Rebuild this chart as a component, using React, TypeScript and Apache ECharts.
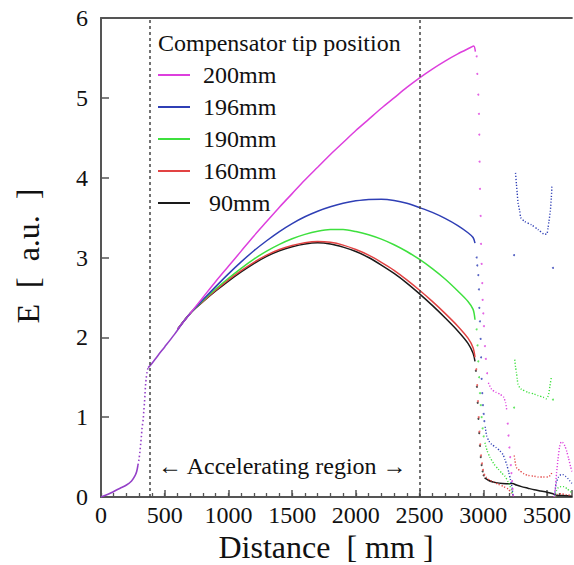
import React, { useEffect, useRef } from "react";
import * as echarts from "echarts";

const GAP = ["-", "-"];

// x tick labels / axis settings
const xTicks = [0, 500, 1000, 1500, 2000, 2500, 3000, 3500];
const yTicks = [0, 1, 2, 3, 4, 5, 6];
const regionBounds = [383, 2500];

const seriesNames = ["200mm", "196mm", "190mm", "160mm", " 90mm"];
const seriesColors = ["#dd3fdd", "#2f3fb5", "#3ee03e", "#e24343", "#1a1a1a"];

// common rise shared by all curves
const commonStart = [[0, 0], [50, 0.03], [100, 0.07], [150, 0.11], [200, 0.15], [240, 0.2], [265, 0.26], [280, 0.32], [290, 0.4]];
const commonRise = [[290, 0.4], [298, 0.47], [305, 0.56], [311, 0.66], [317, 0.76], [322, 0.86], [331, 0.97], [336, 1.08], [341, 1.18], [345, 1.28], [349, 1.39], [355, 1.49], [362, 1.57], [370, 1.62]];
const commonLinear = [[370, 1.62], [383, 1.64], [450, 1.78], [500, 1.88], [578, 2.04], [650, 2.2], [700, 2.3]];

// 200mm
const main200 = [[600, 2.1], [700, 2.3], [800, 2.5], [900, 2.7], [1000, 2.89], [1100, 3.08], [1200, 3.27], [1300, 3.45], [1400, 3.63], [1500, 3.8], [1600, 3.97], [1700, 4.13], [1800, 4.29], [1900, 4.44], [2000, 4.59], [2100, 4.73], [2200, 4.87], [2300, 5.0], [2400, 5.13], [2500, 5.25], [2600, 5.36], [2700, 5.46], [2800, 5.55], [2900, 5.63], [2925, 5.65], [2938, 5.58]];
const pieces200 = [[3040, 1.43], [3065, 1.35], [3100, 1.31], [3130, 1.29], [3160, 1.25], [3175, 1.18], [3185, 1.08], GAP, [3555, 0.0], [3565, 0.1], [3575, 0.3], [3586, 0.47], [3598, 0.62], [3612, 0.69], [3625, 0.68], [3640, 0.64], [3655, 0.57], [3670, 0.48], [3685, 0.38], [3695, 0.32]];
const dots200 = [[2948, 5.52], [2953, 5.3], [2961, 5.04], [2966, 4.8], [2969, 4.54], [2971, 4.2], [2974, 3.86], [2979, 3.52], [2982, 3.17], [2987, 2.92], [2992, 2.68], [2995, 2.47], [3000, 2.3], [3005, 2.14], [3013, 1.89], [3020, 1.73], [3030, 1.55], [3192, 0.92], [3198, 0.77], [3205, 0.62], [3211, 0.5], [3216, 0.4], [3221, 0.3], [3226, 0.2], [3230, 0.1], [3234, 0.02]];

// 196mm
const main196 = [[600, 2.1], [700, 2.3], [800, 2.47], [900, 2.635], [1000, 2.795], [1100, 2.945], [1200, 3.085], [1300, 3.21], [1400, 3.325], [1500, 3.425], [1600, 3.51], [1700, 3.58], [1800, 3.635], [1900, 3.68], [2000, 3.71], [2100, 3.728], [2200, 3.73], [2300, 3.715], [2400, 3.68], [2500, 3.625], [2600, 3.565], [2700, 3.49], [2800, 3.4], [2880, 3.31], [2920, 3.25], [2935, 3.18]];
const pieces196 = [[3015, 0.88], [3026, 0.77], [3045, 0.7], [3065, 0.66], [3100, 0.62], [3130, 0.58], [3155, 0.53], [3170, 0.47], [3185, 0.4], [3200, 0.31], [3213, 0.22], [3226, 0.12], [3234, 0.0], GAP, [3253, 4.06], [3260, 3.92], [3266, 3.81], [3273, 3.68], [3286, 3.58], [3294, 3.5], [3325, 3.45], [3377, 3.41], [3430, 3.35], [3482, 3.29], [3500, 3.3], [3508, 3.37], [3515, 3.45], [3526, 3.58], [3534, 3.75], [3539, 3.91], GAP, [3560, 0.02], [3573, 0.18], [3590, 0.25], [3610, 0.28], [3625, 0.28], [3645, 0.26], [3665, 0.23], [3680, 0.2], [3695, 0.17]];
const dots196 = [[2948, 3.0], [2953, 2.9], [2961, 2.78], [2966, 2.6], [2969, 2.37], [2974, 2.2], [2979, 1.98], [2983, 1.75], [2987, 1.48], [2992, 1.3], [2997, 1.15], [3003, 1.04], [3008, 0.95], [3242, 3.03], [3547, 2.87]];

// 190mm
const main190 = [[600, 2.1], [700, 2.3], [800, 2.46], [900, 2.605], [1000, 2.74], [1100, 2.865], [1200, 2.98], [1300, 3.08], [1400, 3.165], [1500, 3.235], [1600, 3.29], [1700, 3.33], [1800, 3.35], [1900, 3.35], [2000, 3.325], [2100, 3.285], [2200, 3.23], [2300, 3.16], [2400, 3.075], [2500, 2.975], [2600, 2.86], [2700, 2.73], [2800, 2.58], [2880, 2.45], [2920, 2.35], [2935, 2.22]];
const pieces190 = [[3013, 0.68], [3030, 0.58], [3052, 0.5], [3085, 0.41], [3117, 0.35], [3145, 0.3], [3170, 0.26], [3195, 0.19], [3209, 0.14], [3222, 0.08], [3234, 0.02], GAP, [3247, 1.72], [3253, 1.63], [3260, 1.56], [3266, 1.48], [3273, 1.41], [3286, 1.37], [3299, 1.35], [3352, 1.31], [3400, 1.29], [3430, 1.27], [3470, 1.25], [3495, 1.23], [3505, 1.25], [3513, 1.29], [3523, 1.39], [3534, 1.5], GAP, [3560, 0.0], [3575, 0.08], [3590, 0.12], [3610, 0.13], [3633, 0.13], [3660, 0.1], [3690, 0.06]];
const dots190 = [[2948, 2.1], [2955, 1.9], [2961, 1.7], [2967, 1.5], [2974, 1.3], [2980, 1.15], [2987, 1.0], [2995, 0.86], [3003, 0.76], [3242, 1.12], [3547, 1.22]];

// 160mm
const main160 = [[600, 2.1], [700, 2.3], [800, 2.45], [900, 2.59], [1000, 2.72], [1100, 2.835], [1200, 2.94], [1300, 3.03], [1400, 3.1], [1500, 3.15], [1600, 3.185], [1700, 3.2], [1800, 3.19], [1900, 3.155], [2000, 3.1], [2100, 3.03], [2200, 2.94], [2300, 2.84], [2400, 2.72], [2500, 2.59], [2600, 2.45], [2700, 2.3], [2800, 2.14], [2880, 1.99], [2920, 1.87], [2935, 1.75]];
const pieces160 = [[3020, 0.25], [3050, 0.21], [3080, 0.19], [3117, 0.16], [3160, 0.13], [3195, 0.1], [3220, 0.05], [3234, 0.02], GAP, [3243, 0.52], [3247, 0.47], [3253, 0.41], [3260, 0.37], [3273, 0.35], [3286, 0.33], [3320, 0.29], [3352, 0.27], [3400, 0.26], [3430, 0.25], [3470, 0.25], [3508, 0.25], [3525, 0.27], [3534, 0.29], [3540, 0.32], GAP, [3560, 0.0], [3580, 0.03], [3610, 0.04], [3650, 0.03], [3695, 0.02]];
const dots160 = [[2945, 1.6], [2952, 1.4], [2958, 1.2], [2964, 1.0], [2970, 0.82], [2976, 0.66], [2982, 0.52], [2990, 0.42], [2998, 0.34], [3008, 0.28]];

// 90mm
const main90 = [[600, 2.1], [700, 2.3], [800, 2.445], [900, 2.58], [1000, 2.705], [1100, 2.82], [1200, 2.925], [1300, 3.015], [1400, 3.085], [1500, 3.135], [1600, 3.17], [1700, 3.185], [1800, 3.17], [1900, 3.13], [2000, 3.075], [2100, 3.0], [2200, 2.905], [2300, 2.8], [2400, 2.68], [2500, 2.545], [2600, 2.4], [2700, 2.245], [2800, 2.08], [2880, 1.925], [2920, 1.8], [2935, 1.7]];
const pieces90 = [[3010, 0.24], [3040, 0.21], [3070, 0.19], [3100, 0.18], [3150, 0.17], [3200, 0.165], [3230, 0.17], [3260, 0.15], [3300, 0.13], [3350, 0.11], [3400, 0.09], [3450, 0.075], [3500, 0.06], [3547, 0.04], [3580, 0.02], [3620, 0.02], [3660, 0.015], [3695, 0.01]];
const dots90 = [[2942, 1.58], [2950, 1.38], [2956, 1.18], [2962, 0.98], [2968, 0.8], [2974, 0.64], [2980, 0.5], [2987, 0.4], [2995, 0.32], [3003, 0.27]];

const mains = [main200, main196, main190, main160, main90];
const pieces = [pieces200, pieces196, pieces190, pieces160, pieces90];
const dots = [dots200, dots196, dots190, dots160, dots90];
const piecesSolid = [false, false, false, false, true];

const FONT = "Liberation Serif";
const X_MAX = 3695;

export default function App() {
  const ref = useRef<HTMLDivElement>(null);
  useEffect(() => {
    if (!ref.current) return;
    const chart = echarts.init(ref.current, undefined, { renderer: "svg" });
    const series: any[] = [];
    const order = [4, 3, 2, 1, 0];
    order.forEach((i, k) => {
      const name = seriesNames[i];
      const color = seriesColors[i];
      const s: any = {
        type: "line",
        name,
        data: mains[i],
        showSymbol: false,
        smooth: 0.3,
        connectNulls: false,
        lineStyle: { color, width: 1.5 },
        itemStyle: { color },
        z: 2,
      };
      if (k === 0) {
        s.markLine = {
          silent: true,
          symbol: ["none", "none"],
          label: { show: false },
          lineStyle: { type: [3, 3], color: "#444", width: 1.5 },
          data: regionBounds.map((v) => ({ xAxis: v })),
        };
      }
      series.push(s);
      series.push({
        type: "line",
        name,
        data: pieces[i],
        showSymbol: false,
        smooth: 0.2,
        connectNulls: false,
        lineStyle: piecesSolid[i] ? { color, width: 1.5 } : { color, width: 1.4, type: [1.2, 1.8] },
        itemStyle: { color },
        z: 2,
      });
      series.push({
        type: "scatter",
        name,
        data: dots[i],
        symbolSize: 2,
        itemStyle: { color },
        z: 2,
      });
    });
    const purple = "#9440c8";
    series.push({
      type: "line",
      name: "common",
      data: [...commonStart, GAP, ...commonLinear],
      showSymbol: false,
      smooth: 0.3,
      lineStyle: { color: purple, width: 1.6 },
      itemStyle: { color: purple },
      z: 3,
    });
    series.push({
      type: "line",
      name: "common",
      data: commonRise,
      showSymbol: false,
      smooth: 0.3,
      lineStyle: { color: purple, width: 1.6, type: [1.5, 2.5] },
      itemStyle: { color: purple },
      z: 3,
    });

    chart.setOption({
      animation: false,
      backgroundColor: "#ffffff",
      grid: { left: 101, top: 18, right: 0, bottom: 68, containLabel: false },
      xAxis: [
        {
          type: "value",
          min: 0,
          max: X_MAX,
          interval: 100,
          axisLine: { lineStyle: { color: "#555", width: 2 } },
          axisTick: { inside: true, length: 4, lineStyle: { color: "#555", width: 1.3 } },
          splitLine: { show: false },
          axisLabel: {
            fontFamily: FONT,
            fontSize: 24,
            color: "#111",
            margin: 6,
            showMaxLabel: false,
            formatter: (v: number) => (xTicks.includes(v) ? String(v) : ""),
          },
        },
        {
          type: "value",
          position: "bottom",
          min: 0,
          max: X_MAX,
          interval: 500,
          axisLine: { show: false },
          axisTick: { show: true, inside: true, length: 7, lineStyle: { color: "#555", width: 1.5 } },
          axisLabel: { show: false },
          splitLine: { show: false },
        },
        {
          type: "value",
          position: "top",
          min: 0,
          max: X_MAX,
          axisLine: { show: true, lineStyle: { color: "#555", width: 2 } },
          axisTick: { show: false },
          axisLabel: { show: false },
          splitLine: { show: false },
        },
      ],
      yAxis: {
        type: "value",
        min: 0,
        max: 6,
        interval: 1,
        axisLine: { show: true, lineStyle: { color: "#555", width: 2 } },
        axisTick: { show: true, inside: true, length: 8, lineStyle: { color: "#555", width: 1.5 } },
        splitLine: { show: false },
        axisLabel: {
          fontFamily: FONT,
          fontSize: 24,
          color: "#111",
          margin: 13,
          formatter: (v: number) => (yTicks.includes(v) ? String(v) : ""),
        },
      },
      legend: {
        data: seriesNames,
        orient: "vertical",
        left: 158,
        top: 63,
        padding: 0,
        itemGap: 8,
        itemWidth: 32,
        itemHeight: 2,
        icon: "rect",
        selectedMode: false,
        textStyle: { fontFamily: FONT, fontSize: 24, color: "#111", lineHeight: 24, padding: [0, 0, 0, 8] },
      },
      graphic: [
        {
          type: "text",
          left: 158,
          top: 31,
          style: { text: "Compensator tip position", fontFamily: FONT, fontSize: 24, fill: "#111" },
        },
        {
          type: "text",
          left: 158,
          top: 454,
          style: { text: "\u2190 Accelerating region \u2192", fontFamily: FONT, fontSize: 24, fill: "#111" },
        },
        {
          type: "text",
          x: 326,
          y: 547,
          style: { text: "Distance  [ mm ]", fontFamily: FONT, fontSize: 32, fill: "#111", align: "center", verticalAlign: "middle" },
        },
        {
          type: "text",
          x: 28,
          y: 256,
          rotation: Math.PI / 2,
          style: { text: "E  [  a.u.  ]", fontFamily: FONT, fontSize: 32, fill: "#111", align: "center", verticalAlign: "middle" },
        },
      ],
      series,
    });
    return () => chart.dispose();
  }, []);
  return <div ref={ref} style={{ position: "fixed", left: 0, top: 0, width: 574, height: 565 }} />;
}
